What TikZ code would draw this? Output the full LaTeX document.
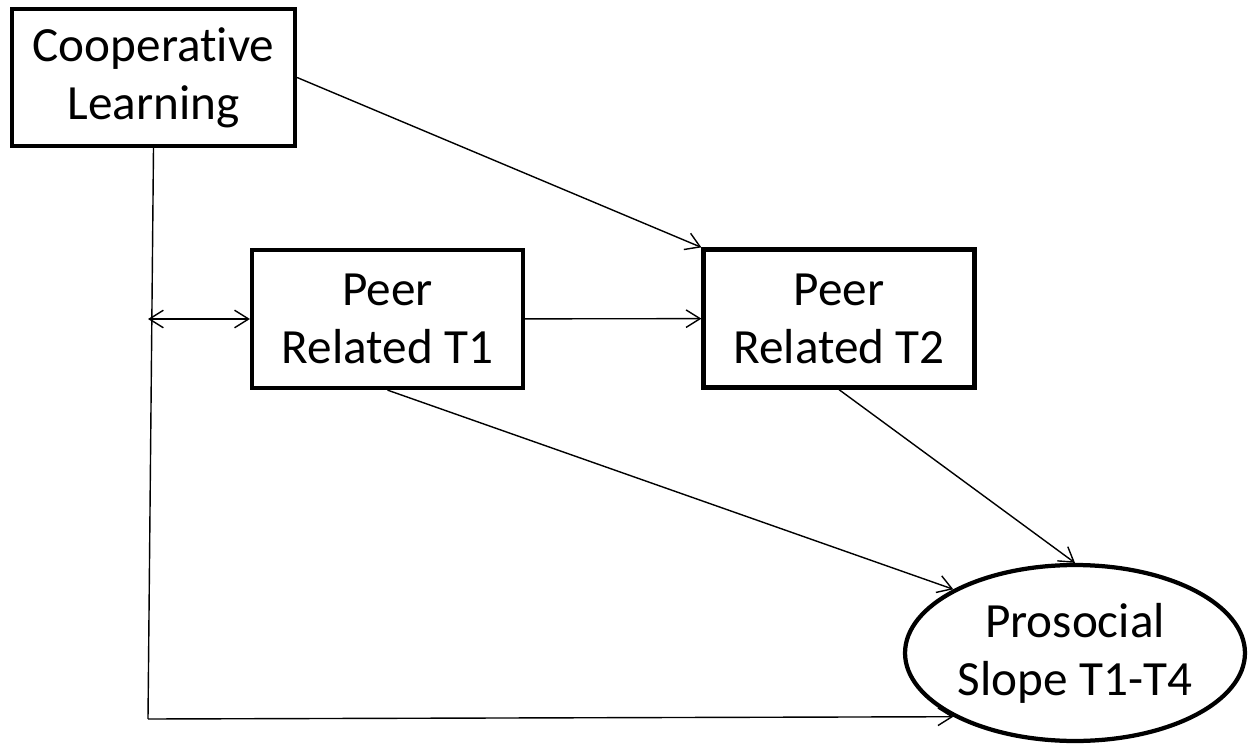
\documentclass[tikz,border=0pt]{standalone}
\usepackage{fontspec}
\setmainfont[Ligatures=NoCommon]{Carlito}
\usetikzlibrary{arrows.meta,shapes.geometric}

\begin{document}
\begin{tikzpicture}[x=0.02cm,y=-0.02cm,->,>={Straight Barb[length=8pt,width=10pt]},
    var node/.style={rectangle,draw,line width=0.085cm,align=center,inner sep=0pt,
      font=\fontsize{28}{33}\selectfont},
    latent node/.style={ellipse,draw,line width=0.085cm,align=center,inner sep=0pt,
      minimum width=6.8cm,minimum height=3.52cm,font=\fontsize{28}{33}\selectfont},
    line width=0.8pt]

              \useasboundingbox (0,0) rectangle (1255,750);

              % Define vertices by coordinates
              \node[var node,minimum width=5.66cm,minimum height=2.74cm] (CL) at (153.5,77.5) {Cooperative\\Learning};
              \node[var node,minimum width=5.42cm,minimum height=2.76cm] (PR1) at (387.5,319) {Peer\\Related T1};
              \node[var node,minimum width=5.42cm,minimum height=2.76cm] (PR2) at (839,318.5) {Peer\\Related T2};
              \node[latent node] (PS) at (1075,653) {Prosocial\\Slope T1-T4};

              \coordinate (corner) at (148,719);
              \coordinate (cov) at (148,319);

              % Draw arrows
              \draw[-] (CL.south) -- (corner);
              \path
                (CL.east) edge[->] node {} (PR2.north west)
                (cov) edge[<->] node {} (PR1.west)
                (PR1) edge[->] node {} (PR2)
                (PR1.south) edge[->] node {} (PS.north west)
                (PR2.south) edge[->] node {} (PS.north)
                (corner) edge[->] node {} (PS.south west);
            \end{tikzpicture}
\end{document}
